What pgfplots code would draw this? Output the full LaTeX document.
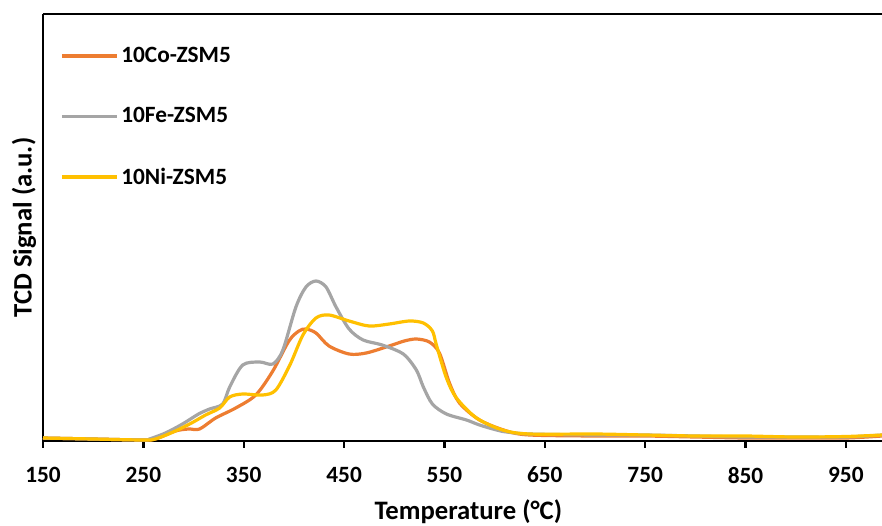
\documentclass[border=0pt]{standalone}
\usepackage{pgfplots}
\pgfplotsset{compat=1.18}
\usepackage{fontspec}
\setmainfont{Carlito}
\definecolor{cCo}{HTML}{ED7D31}
\definecolor{cFe}{HTML}{A5A5A5}
\definecolor{cNi}{HTML}{FFC000}
\begin{document}
\begin{tikzpicture}
\begin{axis}[
  scale only axis, width=629.25pt, height=320.25pt,
  xmin=150, xmax=986, ymin=-2, ymax=425,
  axis lines=left, axis line style={-, line width=2.2pt, black},
  xtick={150,250,...,950}, xtick align=outside, major tick length=5pt,
  tick style={line width=1.8pt, black},
  ytick=\empty,
  /pgf/number format/assume math mode=true,
  ticklabel style={font=\fontsize{17.5}{20}\selectfont\bfseries},
  xticklabel style={yshift=-11pt},
  xlabel={Temperature (°C)}, ylabel={TCD Signal (a.u.)},
  label style={font=\fontsize{20}{23}\selectfont\bfseries},
  xlabel style={at={(axis description cs:0.507,-0.1663)}, anchor=center},
  ylabel style={at={(axis description cs:-0.0226,0.5)}, anchor=center},
  legend style={at={(axis description cs:0.0204,0.929)}, anchor=north west, draw=none, fill=none,
    font=\fontsize{17.5}{20}\selectfont\bfseries, row sep=28.25pt, inner sep=0pt},
  legend cell align=left,
  legend image code/.code={\draw[#1] (0pt,0pt) -- (41.25pt,0pt);},
  every axis plot/.append style={line width=2.4pt, smooth, tension=0.5},
]
\addplot[cCo] coordinates {
(150,1) (200,0) (250,-1) (262,0) (282,8) (295,10) (306,10) (322,21) (342,31)
(362,44) (379,68) (395,98) (405,108) (412,110) (422,106) (435,93) (455,85)
(472,86) (495,93) (510,98) (522,100) (535,97) (545,86) (555,56) (565,36)
(585,19) (612,8) (635,4) (700,3) (750,3) (800,2) (850,1) (900,1) (950,1) (986,3)};
\addlegendentry{10Co-ZSM5}
\addplot[cFe] coordinates {
(150,1) (200,0) (250,-1) (256,0) (272,6) (289,15) (305,25) (316,30) (329,35)
(336,52) (349,74) (366,77) (379,75) (389,89) (402,132) (412,152) (422,158)
(432,152) (442,132) (455,110) (469,99) (488,94) (509,85) (522,69) (529,52)
(538,35) (552,25) (572,19) (585,14) (602,9) (612,7) (635,5) (700,4) (750,4)
(800,3) (850,2) (900,2) (950,2) (986,4)};
\addlegendentry{10Fe-ZSM5}
\addplot[cNi] coordinates {
(150,1) (200,0) (250,-1) (262,0) (282,8) (298,16) (312,24) (326,31) (336,42)
(349,45) (369,44) (382,49) (396,74) (409,104) (422,121) (435,124) (455,118)
(475,113) (495,115) (515,118) (529,116) (538,108) (542,94) (552,61) (562,41)
(582,21) (608,9) (635,5) (700,5) (750,4) (800,3) (850,3) (900,2) (950,2.5) (986,4)};
\addlegendentry{10Ni-ZSM5}
\draw[line width=2.2pt, black] (rel axis cs:0,1) -- (rel axis cs:1,1);
\coordinate (BL) at (rel axis cs:0,0);
\coordinate (TR) at (rel axis cs:1,1);
\end{axis}
\pgfresetboundingbox
\path[use as bounding box] ([xshift=-32.25pt,yshift=-63pt]BL) rectangle ([yshift=10.5pt]TR);
\end{tikzpicture}
\end{document}
